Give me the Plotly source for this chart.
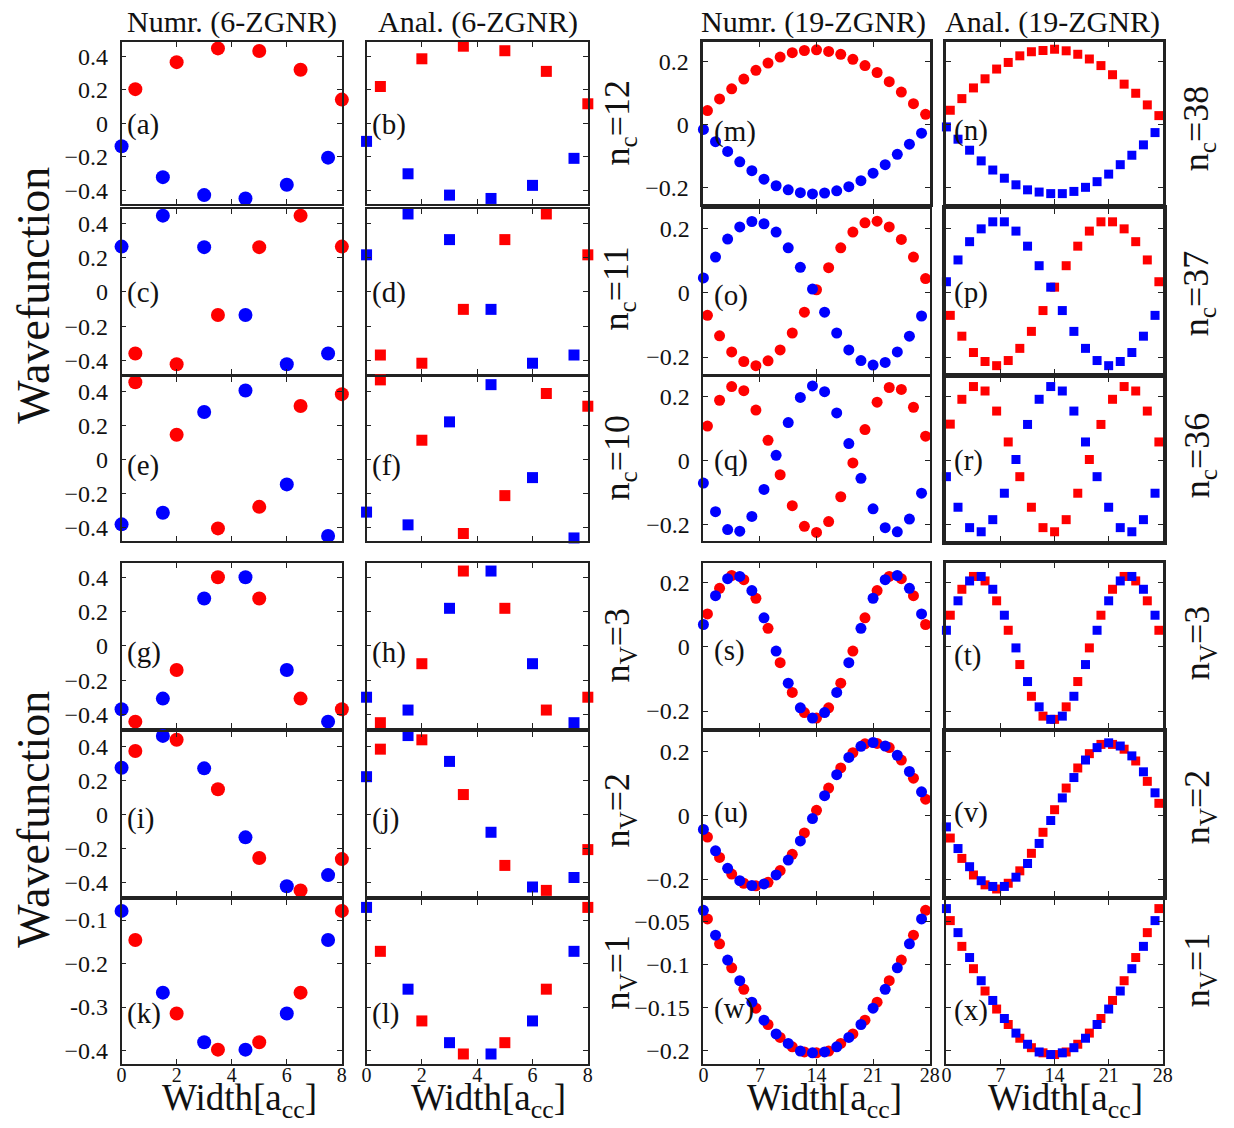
import plotly.graph_objects as go

# ---------------- data ----------------
# x positions (Width in a_cc)
X6_BLUE = [0, 1.5, 3, 4.5, 6, 7.5]
X6_RED = [0.5, 2, 3.5, 5, 6.5, 8]
X19_BLUE = [0, 1.5, 3, 4.5, 6, 7.5, 9, 10.5, 12, 13.5, 15, 16.5, 18, 19.5, 21, 22.5, 24, 25.5, 27]
X19_RED = [0.5, 2, 3.5, 5, 6.5, 8, 9.5, 11, 12.5, 14, 15.5, 17, 18.5, 20, 21.5, 23, 24.5, 26, 27.5]

# 6-ZGNR, numerical (circles) and analytical (squares)
A_BLUE = [-0.136, -0.32, -0.427, -0.447, -0.365, -0.204]
A_RED = [0.204, 0.365, 0.447, 0.431, 0.32, 0.142]
B_BLUE = [-0.107, -0.30, -0.427, -0.447, -0.369, -0.208]
B_RED = [0.22, 0.385, 0.46, 0.433, 0.31, 0.117]
C_BLUE = [0.265, 0.446, 0.262, -0.135, -0.423, -0.36]
C_RED = [-0.36, -0.423, -0.135, 0.262, 0.446, 0.265]
D_BLUE = [0.217, 0.456, 0.306, -0.102, -0.417, -0.369]
D_RED = [-0.369, -0.417, -0.102, 0.306, 0.456, 0.217]
E_BLUE = [-0.382, -0.314, 0.279, 0.406, -0.147, -0.45]
E_RED = [0.454, 0.145, -0.406, -0.279, 0.314, 0.384]
F_BLUE = [-0.31, -0.385, 0.221, 0.44, -0.107, -0.462]
F_RED = [0.468, 0.113, -0.436, -0.213, 0.388, 0.313]
G_BLUE = [-0.37, -0.308, 0.277, 0.402, -0.141, -0.443]
G_RED = [-0.443, -0.141, 0.402, 0.277, -0.308, -0.37]
H_BLUE = [-0.30, -0.375, 0.22, 0.438, -0.104, -0.449]
H_RED = [-0.449, -0.104, 0.438, 0.22, -0.375, -0.30]
I_BLUE = [0.275, 0.462, 0.271, -0.135, -0.423, -0.357]
I_RED = [0.373, 0.439, 0.148, -0.256, -0.447, -0.263]
J_BLUE = [0.222, 0.464, 0.312, -0.105, -0.427, -0.371]
J_RED = [0.384, 0.439, 0.117, -0.30, -0.447, -0.207]
K_BLUE = [-0.079, -0.267, -0.381, -0.398, -0.315, -0.146]
K_RED = [-0.146, -0.315, -0.398, -0.381, -0.267, -0.079]
L_BLUE = [-0.071, -0.259, -0.382, -0.408, -0.332, -0.172]
L_RED = [-0.172, -0.332, -0.408, -0.382, -0.259, -0.071]

# 19-ZGNR
M_BLUE = [-0.016, -0.055, -0.086, -0.119, -0.147, -0.174, -0.195, -0.208, -0.217, -0.221,
          -0.218, -0.211, -0.198, -0.179, -0.155, -0.128, -0.095, -0.063, -0.028]
M_RED = [0.044, 0.081, 0.113, 0.144, 0.172, 0.195, 0.214, 0.228, 0.235, 0.237,
         0.232, 0.223, 0.207, 0.187, 0.165, 0.136, 0.103, 0.066, 0.032]
N_BLUE = [-0.008, -0.047, -0.082, -0.116, -0.145, -0.171, -0.192, -0.208, -0.215, -0.220,
          -0.220, -0.213, -0.200, -0.182, -0.158, -0.128, -0.098, -0.065, -0.026]
N_RED = [0.045, 0.082, 0.116, 0.145, 0.176, 0.197, 0.218, 0.231, 0.235, 0.239,
         0.234, 0.223, 0.208, 0.187, 0.158, 0.128, 0.099, 0.062, 0.028]
O_BLUE = [0.047, 0.112, 0.168, 0.206, 0.223, 0.216, 0.190, 0.141, 0.080, 0.012,
          -0.060, -0.125, -0.178, -0.211, -0.225, -0.217, -0.184, -0.135, -0.072]
O_RED = [-0.070, -0.134, -0.184, -0.214, -0.227, -0.212, -0.178, -0.125, -0.060, 0.010,
         0.079, 0.141, 0.190, 0.219, 0.224, 0.206, 0.167, 0.112, 0.045]
P_BLUE = [0.035, 0.103, 0.160, 0.200, 0.222, 0.222, 0.193, 0.146, 0.085, 0.018,
          -0.055, -0.120, -0.173, -0.211, -0.227, -0.214, -0.186, -0.135, -0.070]
P_RED = [-0.070, -0.135, -0.186, -0.214, -0.227, -0.211, -0.173, -0.120, -0.055, 0.018,
         0.085, 0.146, 0.193, 0.222, 0.222, 0.200, 0.160, 0.103, 0.035]
Q_BLUE = [-0.071, -0.161, -0.217, -0.222, -0.176, -0.091, 0.016, 0.119, 0.198, 0.234,
          0.216, 0.149, 0.053, -0.056, -0.152, -0.211, -0.224, -0.184, -0.103]
Q_RED = [0.108, 0.189, 0.232, 0.219, 0.158, 0.063, -0.045, -0.142, -0.207, -0.226,
         -0.192, -0.114, -0.008, 0.097, 0.183, 0.229, 0.223, 0.167, 0.076]
R_BLUE = [-0.051, -0.147, -0.211, -0.224, -0.186, -0.103, 0.003, 0.113, 0.192, 0.232,
          0.218, 0.155, 0.058, -0.051, -0.147, -0.211, -0.224, -0.186, -0.103]
R_RED = [0.114, 0.192, 0.232, 0.218, 0.155, 0.058, -0.051, -0.147, -0.211, -0.224,
         -0.186, -0.103, 0.003, 0.113, 0.192, 0.232, 0.218, 0.155, 0.058]
S_BLUE = [0.070, 0.160, 0.213, 0.220, 0.176, 0.091, -0.013, -0.113, -0.190, -0.222,
          -0.205, -0.142, -0.049, 0.058, 0.152, 0.210, 0.223, 0.183, 0.103]
S_RED = [0.103, 0.183, 0.223, 0.210, 0.152, 0.058, -0.049, -0.142, -0.205, -0.222,
         -0.190, -0.113, -0.013, 0.091, 0.176, 0.220, 0.213, 0.160, 0.070]
T_BLUE = [0.052, 0.144, 0.206, 0.220, 0.180, 0.099, -0.003, -0.108, -0.187, -0.226,
          -0.216, -0.154, -0.055, 0.052, 0.144, 0.206, 0.220, 0.180, 0.099]
T_RED = [0.099, 0.180, 0.220, 0.206, 0.144, 0.052, -0.055, -0.154, -0.216, -0.226,
         -0.187, -0.108, -0.003, 0.099, 0.180, 0.220, 0.206, 0.144, 0.052]
U_BLUE = [-0.044, -0.111, -0.166, -0.205, -0.220, -0.215, -0.187, -0.140, -0.080, -0.010,
          0.062, 0.128, 0.182, 0.217, 0.229, 0.218, 0.189, 0.138, 0.074]
U_RED = [-0.068, -0.132, -0.184, -0.213, -0.221, -0.210, -0.173, -0.122, -0.055, 0.016,
         0.086, 0.149, 0.197, 0.225, 0.226, 0.213, 0.174, 0.117, 0.051]
V_BLUE = [-0.036, -0.104, -0.161, -0.205, -0.223, -0.223, -0.194, -0.151, -0.088, -0.016,
          0.055, 0.119, 0.174, 0.213, 0.228, 0.218, 0.187, 0.137, 0.071]
V_RED = [-0.071, -0.135, -0.187, -0.218, -0.231, -0.213, -0.174, -0.119, -0.053, 0.018,
         0.086, 0.149, 0.194, 0.223, 0.223, 0.208, 0.171, 0.107, 0.038]
W_BLUE = [-0.037, -0.066, -0.095, -0.119, -0.144, -0.165, -0.181, -0.192, -0.201, -0.203,
          -0.202, -0.196, -0.185, -0.170, -0.151, -0.129, -0.104, -0.076, -0.047]
W_RED = [-0.047, -0.076, -0.104, -0.129, -0.151, -0.170, -0.185, -0.196, -0.202, -0.203,
         -0.201, -0.192, -0.181, -0.165, -0.144, -0.119, -0.095, -0.066, -0.037]
XP_BLUE = [-0.035, -0.063, -0.092, -0.119, -0.142, -0.163, -0.180, -0.193, -0.202, -0.205,
           -0.203, -0.197, -0.186, -0.170, -0.152, -0.131, -0.105, -0.079, -0.049]
XP_RED = [-0.049, -0.079, -0.105, -0.131, -0.152, -0.170, -0.186, -0.197, -0.203, -0.205,
          -0.202, -0.193, -0.180, -0.163, -0.142, -0.119, -0.092, -0.063, -0.035]

COL_TITLES = ["Numr. (6-ZGNR)", "Anal. (6-ZGNR)", "Numr. (19-ZGNR)", "Anal. (19-ZGNR)"]
LEFT_STATES = ["n<sub>c</sub>=12", "n<sub>c</sub>=11", "n<sub>c</sub>=10",
               "n<sub>V</sub>=3", "n<sub>V</sub>=2", "n<sub>V</sub>=1"]
RIGHT_STATES = ["n<sub>c</sub>=38", "n<sub>c</sub>=37", "n<sub>c</sub>=36",
                "n<sub>V</sub>=3", "n<sub>V</sub>=2", "n<sub>V</sub>=1"]
X6_TICKS = [0, 2, 4, 6, 8]
X19_TICKS = [0, 7, 14, 21, 28]
Y6_TICKS = [-0.4, -0.2, 0, 0.2, 0.4]
Y6_TEXT = ["\u22120.4", "\u22120.2", "0", "0.2", "0.4"]
Y6B_TICKS = [-0.4, -0.3, -0.2, -0.1]
Y6B_TEXT = ["\u22120.4", "-0.3", "\u22120.2", "\u22120.1"]
Y19_TICKS = [-0.2, 0, 0.2]
Y19_TEXT = ["\u22120.2", "0", "0.2"]
Y19B_TICKS = [-0.2, -0.15, -0.1, -0.05]
Y19B_TEXT = ["\u22120.2", "\u22120.15", "\u22120.1", "\u22120.05"]

# panel grid: rows x cols, letter, blue, red
PANELS = [
    [("a", A_BLUE, A_RED), ("b", B_BLUE, B_RED), ("m", M_BLUE, M_RED), ("n", N_BLUE, N_RED)],
    [("c", C_BLUE, C_RED), ("d", D_BLUE, D_RED), ("o", O_BLUE, O_RED), ("p", P_BLUE, P_RED)],
    [("e", E_BLUE, E_RED), ("f", F_BLUE, F_RED), ("q", Q_BLUE, Q_RED), ("r", R_BLUE, R_RED)],
    [("g", G_BLUE, G_RED), ("h", H_BLUE, H_RED), ("s", S_BLUE, S_RED), ("t", T_BLUE, T_RED)],
    [("i", I_BLUE, I_RED), ("j", J_BLUE, J_RED), ("u", U_BLUE, U_RED), ("v", V_BLUE, V_RED)],
    [("k", K_BLUE, K_RED), ("l", L_BLUE, L_RED), ("w", W_BLUE, W_RED), ("x", XP_BLUE, XP_RED)],
]

# ---------------- layout geometry (pixels) ----------------
W, H = 1234, 1128
COLS = [(118, 341), (366, 590), (707, 936), (953, 1172)]
ROWS = [(42, 204), (209, 374), (377, 541), (563, 728), (732, 896), (900, 1064)]
FRAME_W = {"m": 2.5, "n": 3, "p": 3.5, "r": 3.5, "t": 2.5, "v": 3.5}
LABEL_Y = {"a": 125, "b": 125, "c": 293, "d": 293, "e": 465, "f": 465, "g": 652, "h": 652,
           "i": 818, "j": 818, "k": 1013, "l": 1013, "m": 131, "n": 130, "o": 295, "p": 292,
           "q": 460, "r": 460, "s": 650, "t": 655, "u": 812, "v": 812, "w": 1008, "x": 1010}
LABEL_DX = [3, 3, 9, 6]

FONT = "Liberation Serif, Times New Roman, serif"
RED = "#ff0000"
BLUE = "#0000ff"
FRAME = "#222222"
TXT = "#111111"

fig = go.Figure()
layout = {}
annotations = []

idx = 0
for r, row in enumerate(PANELS):
    for c, (letter, blue, red) in enumerate(row):
        idx += 1
        xa = "x" if idx == 1 else f"x{idx}"
        ya = "y" if idx == 1 else f"y{idx}"
        six = c < 2
        xb = X6_BLUE if six else X19_BLUE
        xr = X6_RED if six else X19_RED
        symbol = "circle" if c in (0, 2) else "square"
        size = [14, 11, 11, 9][c]
        for xs, ys, col in ((xr, red, RED), (xb, blue, BLUE)):
            fig.add_trace(go.Scatter(
                x=xs, y=ys, mode="markers", xaxis=xa, yaxis=ya,
                marker=dict(symbol=symbol, size=size, color=col, line=dict(width=0)),
                cliponaxis=False, showlegend=False, hoverinfo="skip"))
        lw = FRAME_W.get(letter, 1.5)
        x0, x1 = COLS[c]
        y0, y1 = ROWS[r]
        bottom = r == 5
        if six:
            xr_range = [0, 8]
            xt = X6_TICKS
            if r < 5:
                yr, yt, ytt = [-0.48, 0.485], Y6_TICKS, Y6_TEXT
            else:
                yr, yt, ytt = [-0.431, -0.054], Y6B_TICKS, Y6B_TEXT
        else:
            xr_range = [0, 28]
            xt = X19_TICKS
            if r < 5:
                yr, yt, ytt = [-0.253, 0.262], Y19_TICKS, Y19_TEXT
            else:
                yr, yt, ytt = [-0.216, -0.025], Y19B_TICKS, Y19B_TEXT
        common = dict(showline=True, mirror="allticks", linecolor=FRAME, linewidth=lw,
                      ticks="inside", ticklen=5, tickwidth=1, tickcolor=FRAME,
                      showgrid=False, zeroline=False, fixedrange=True)
        layout[("xaxis" if idx == 1 else f"xaxis{idx}")] = dict(
            common, domain=[x0 / W, x1 / W], range=xr_range, anchor=ya,
            tickvals=xt, ticktext=[str(v) for v in xt], showticklabels=bottom,
            ticklabelstandoff=-8, tickfont=dict(family=FONT, size=20, color=TXT))
        layout[("yaxis" if idx == 1 else f"yaxis{idx}")] = dict(
            common, domain=[1 - y1 / H, 1 - y0 / H], range=yr, anchor=xa,
            tickvals=yt, ticktext=ytt, showticklabels=c in (0, 2),
            ticklabelstandoff=7, tickfont=dict(family=FONT, size=24, color=TXT))
        annotations.append(dict(
            text=f"({letter})", x=(x0 + LABEL_DX[c]) / W, y=1 - LABEL_Y[letter] / H,
            xref="paper", yref="paper", xanchor="left", yanchor="middle", showarrow=False,
            font=dict(family=FONT, size=29, color=TXT)))

# column titles
for c, t in enumerate(COL_TITLES):
    cx = [230, 479, 818, 1060][c]
    annotations.append(dict(text=t, x=cx / W, y=1 - 22 / H, xref="paper", yref="paper",
                            xanchor="center", yanchor="middle", showarrow=False,
                            font=dict(family=FONT, size=30, color=TXT)))
# x titles
for c in range(4):
    cx = [237, 489, 830, 1074][c]
    annotations.append(dict(text="Width[a<sub>cc</sub>]", x=cx / W, y=1 - 1126 / H,
                            xref="paper", yref="paper", xanchor="center", yanchor="bottom",
                            showarrow=False, font=dict(family=FONT, size=37, color=TXT)))
# y titles
for cy in (295, 819):
    annotations.append(dict(text="Wavefunction", x=28 / W, y=1 - cy / H, xref="paper",
                            yref="paper", xanchor="center", yanchor="middle", textangle=-90,
                            showarrow=False, font=dict(family=FONT, size=46, color=TXT)))
# state labels
LEFT_Y = [122, 288, 457, 645, 810, 972]
RIGHT_Y = [128, 293, 455, 643, 807, 970]
for r in range(6):
    annotations.append(dict(text=LEFT_STATES[r], x=622 / W, y=1 - LEFT_Y[r] / H,
                            xref="paper", yref="paper", xanchor="center", yanchor="middle",
                            textangle=-90, showarrow=False,
                            font=dict(family=FONT, size=36, color=TXT)))
    annotations.append(dict(text=RIGHT_STATES[r], x=1209 / W, y=1 - RIGHT_Y[r] / H,
                            xref="paper", yref="paper", xanchor="center", yanchor="middle",
                            textangle=-90, showarrow=False,
                            font=dict(family=FONT, size=36, color=TXT)))

fig.update_layout(layout)
fig.update_layout(width=W, height=H, margin=dict(l=0, r=0, t=0, b=0),
                  paper_bgcolor="white", plot_bgcolor="white",
                  font=dict(family=FONT, size=20, color=TXT),
                  annotations=annotations, showlegend=False)
fig.write_html("out.html")
